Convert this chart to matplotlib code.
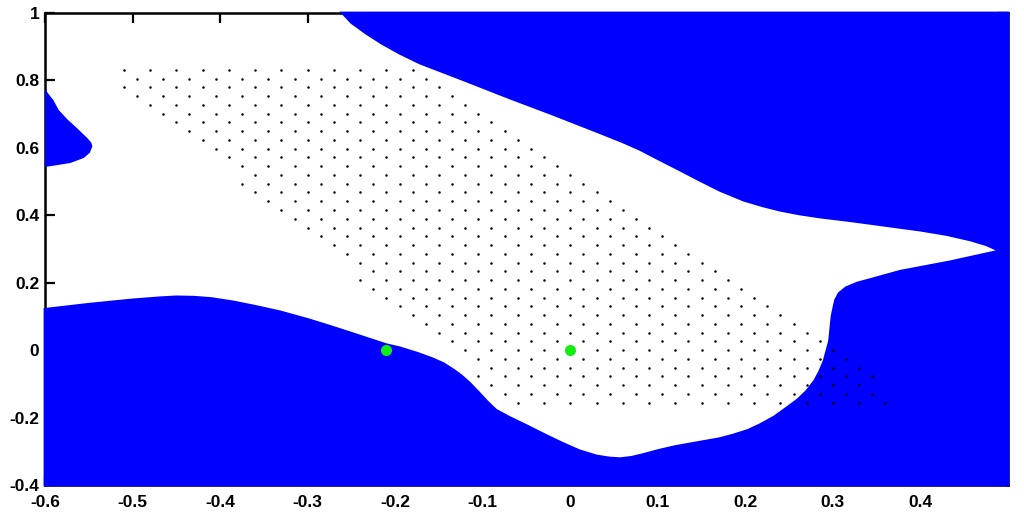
import numpy as np
import matplotlib
matplotlib.use('Agg')
import matplotlib.pyplot as plt

plt.rcParams['font.family'] = ['Liberation Sans', 'DejaVu Sans']

# lower boundary of the white area (left -> right tip)
lower_x = [-0.600, -0.550, -0.500, -0.470, -0.450, -0.430, -0.410, -0.385, -0.360, -0.332,
           -0.300, -0.275, -0.250, -0.210, -0.195, -0.175, -0.157, -0.145, -0.134, -0.125,
           -0.115, -0.105, -0.095, -0.085, -0.070, -0.050, -0.030, -0.010, 0.010, 0.030,
           0.045, 0.057, 0.070, 0.083, 0.100, 0.120, 0.148, 0.170, 0.186, 0.203,
           0.217, 0.233, 0.247, 0.260, 0.270, 0.279, 0.285, 0.290, 0.293, 0.296,
           0.297, 0.298, 0.299, 0.301, 0.303, 0.307, 0.315, 0.328, 0.345, 0.377,
           0.434, 0.491]
lower_y = [0.121, 0.136, 0.149, 0.155, 0.158, 0.157, 0.153, 0.143, 0.130, 0.114,
           0.091, 0.071, 0.050, 0.016, 0.007, -0.009, -0.026, -0.040, -0.058, -0.075,
           -0.098, -0.125, -0.153, -0.178, -0.199, -0.224, -0.250, -0.275, -0.298, -0.314,
           -0.320, -0.322, -0.318, -0.310, -0.298, -0.286, -0.273, -0.263, -0.252, -0.238,
           -0.221, -0.198, -0.172, -0.147, -0.122, -0.092, -0.063, -0.032, -0.003, 0.025,
           0.047, 0.075, 0.100, 0.125, 0.148, 0.168, 0.185, 0.199, 0.211, 0.234,
           0.262, 0.2946]

# upper boundary of the white area (top edge -> right tip)
upper_x = [-0.260, -0.250, -0.233, -0.215, -0.195, -0.172, -0.120, -0.070, -0.020, 0.034,
           0.060, 0.080, 0.100, 0.125, 0.148, 0.171, 0.198, 0.220, 0.240, 0.262,
           0.285, 0.320, 0.360, 0.400, 0.430, 0.457, 0.475, 0.491]
upper_y = [1.000, 0.972, 0.940, 0.910, 0.881, 0.852, 0.800, 0.749, 0.700, 0.645,
           0.618, 0.595, 0.568, 0.535, 0.504, 0.474, 0.445, 0.428, 0.415, 0.404,
           0.395, 0.384, 0.370, 0.356, 0.343, 0.327, 0.313, 0.2946]

# small blob on the left edge
blob_x = [-0.600, -0.597, -0.591, -0.585, -0.575, -0.564, -0.552, -0.548, -0.5467,
          -0.5494, -0.556, -0.5714, -0.5943, -0.600]
blob_y = [0.771, 0.760, 0.740, 0.711, 0.683, 0.657, 0.627, 0.615, 0.605,
          0.587, 0.572, 0.557, 0.5476, 0.5456]

# hexagonal dot lattice: row index and first/last x of each row
row_k = list(range(32, -7, -1))
row_xmin = [-0.51, -0.495, -0.51, -0.495, -0.48, -0.465, -0.45, -0.435, -0.42, -0.405,
            -0.39, -0.375, -0.36, -0.375, -0.36, -0.345, -0.33, -0.315, -0.30, -0.285,
            -0.27, -0.255, -0.24, -0.225, -0.24, -0.225, -0.21, -0.195, -0.18, -0.165,
            -0.15, -0.135, -0.12, -0.105, -0.09, -0.105, -0.09, -0.075, -0.06]
row_xmax = [-0.18, -0.165, -0.15, -0.135, -0.12, -0.105, -0.09, -0.075, -0.06, -0.045,
            -0.03, -0.015, 0.0, 0.015, 0.03, 0.045, 0.06, 0.075, 0.09, 0.105,
            0.12, 0.135, 0.15, 0.165, 0.18, 0.195, 0.21, 0.225, 0.24, 0.255,
            0.27, 0.285, 0.30, 0.315, 0.33, 0.345, 0.33, 0.345, 0.36]
dot_step = 0.03

green_x = [-0.21, 0.0]
green_y = [0.0, 0.0]

xlim = (-0.6, 0.5)
ylim = (-0.4, 1.0)

fig = plt.figure(figsize=(10.24, 5.13), dpi=100)
ax = fig.add_axes([45 / 1024, 1 - 485 / 513, 963 / 1024, 472 / 513])

blue_x = [xlim[1], xlim[1], xlim[0]] + lower_x + upper_x[::-1]
blue_y = [ylim[1], ylim[0], ylim[0]] + lower_y + upper_y[::-1]
ax.fill(blue_x, blue_y, color='#0000ff', lw=2, zorder=3, clip_on=False)
ax.fill(blob_x, blob_y, color='#0000ff', lw=1, zorder=3)

dx, dy = [], []
for k, x0, x1 in zip(row_k, row_xmin, row_xmax):
    n = int(round((x1 - x0) / dot_step)) + 1
    xs = x0 + dot_step * np.arange(n)
    dx.extend(xs)
    dy.extend([k * dot_step * np.sqrt(3) / 2] * n)
ax.plot(dx, dy, 'o', color='black', markersize=1.8, mew=0, zorder=4)

ax.plot(green_x, green_y, 'o', color='#11ee11', markersize=8, mew=0, zorder=5)

ax.set_xlim(xlim)
ax.set_ylim(ylim)
ax.set_xticks(np.arange(-0.6, 0.41, 0.1))
ax.set_xticklabels(['-0.6', '-0.5', '-0.4', '-0.3', '-0.2', '-0.1', '0', '0.1', '0.2', '0.3', '0.4'])
ax.set_yticks(np.arange(-0.4, 1.01, 0.2))
ax.set_yticklabels(['-0.4', '-0.2', '0', '0.2', '0.4', '0.6', '0.8', '1'])
ax.tick_params(direction='in', length=7, width=1.6, top=True, right=True,
               labelsize=12.5, pad=4)
ax.tick_params(axis='x', pad=7)
for lab in ax.get_xticklabels() + ax.get_yticklabels():
    lab.set_fontweight('bold')
for s in ax.spines.values():
    s.set_linewidth(1.8)

fig.savefig('out.png', dpi=100)
